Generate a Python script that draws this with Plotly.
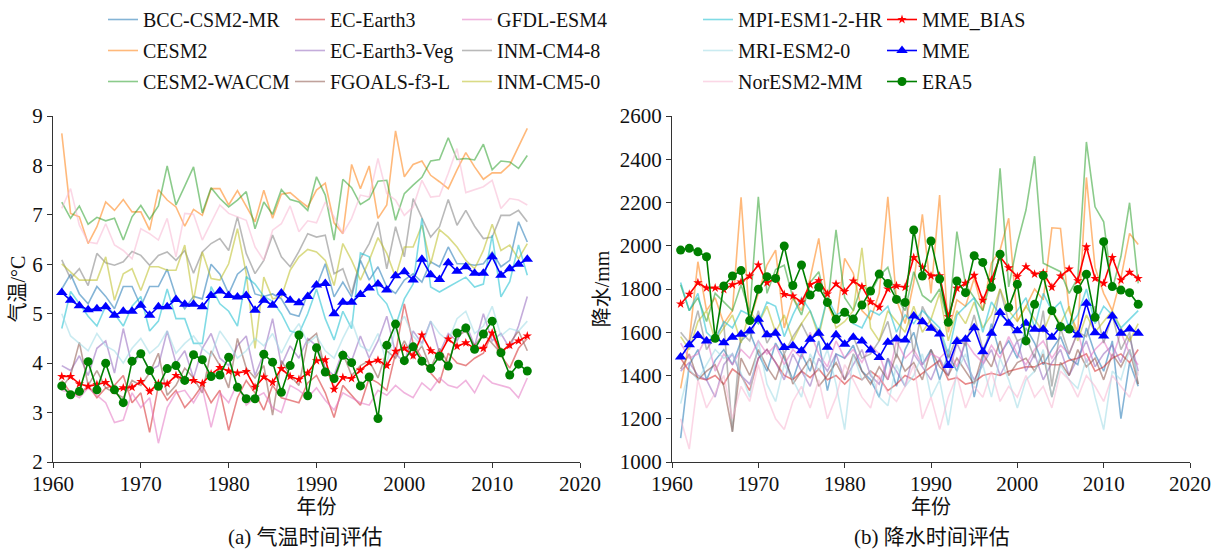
import plotly.graph_objects as go

years = list(range(1961, 2015))
x_ticks = [1960, 1970, 1980, 1990, 2000, 2010, 2020]
t_ticks = [2, 3, 4, 5, 6, 7, 8, 9]
p_ticks = [1000, 1200, 1400, 1600, 1800, 2000, 2200, 2400, 2600]

# ---------------- Temperature (°C) ----------------
T_MME_BIAS = [3.73,3.73,3.58,3.53,3.57,3.61,3.45,3.50,3.51,3.63,
              3.43,3.59,3.58,3.75,3.66,3.65,3.59,3.78,3.91,3.84,
              3.80,3.83,3.51,3.72,3.61,3.89,3.73,3.67,3.80,4.05,
              4.07,3.47,3.71,3.69,3.86,4.01,4.06,3.95,4.24,4.30,
              4.15,4.57,4.25,4.16,4.49,4.34,4.41,4.30,4.30,4.61,
              4.23,4.36,4.45,4.55]
T_MME = [5.43,5.27,5.16,5.08,5.10,5.14,4.97,5.05,5.05,5.17,
         4.97,5.14,5.14,5.29,5.19,5.19,5.14,5.37,5.46,5.37,
         5.34,5.37,5.07,5.27,5.17,5.42,5.27,5.22,5.35,5.58,
         5.61,5.00,5.23,5.23,5.39,5.52,5.60,5.48,5.77,5.85,
         5.68,6.10,5.79,5.69,6.03,5.86,5.95,5.82,5.82,6.15,
         5.78,5.91,6.00,6.10]
T_ERA5 = [3.54,3.36,3.43,4.03,3.46,4.00,3.46,3.20,4.04,4.19,
          3.85,3.53,3.89,3.95,3.65,4.17,4.07,3.73,3.76,4.12,
          3.51,3.28,3.28,4.18,4.02,3.41,3.95,4.57,3.34,4.31,
          3.82,3.69,4.16,4.01,3.54,3.72,2.88,4.36,4.79,4.05,
          4.33,4.04,3.89,4.14,3.94,4.61,4.71,4.28,4.59,4.85,
          4.21,3.76,3.98,3.84]

T_BCC = [5.50,5.80,5.40,5.20,5.55,5.35,5.10,5.55,5.55,5.15,
         5.55,5.55,5.90,5.35,5.10,5.35,5.30,6.00,5.80,5.40,
         5.80,5.95,5.40,5.35,5.40,5.30,5.00,4.95,5.40,5.55,
         6.01,5.34,5.64,5.34,6.08,5.68,5.95,5.54,5.41,5.68,
         5.81,5.64,6.05,5.95,6.35,6.01,6.01,5.98,6.01,6.25,
         5.95,6.08,6.86,6.45]
T_CESM2 = [8.65,7.03,6.96,6.42,6.76,7.26,7.09,7.31,7.06,7.06,
           6.69,7.51,7.30,7.16,6.77,7.11,6.99,7.53,7.53,7.20,
           7.49,7.16,6.86,7.50,6.93,7.42,7.45,7.30,7.16,7.50,
           7.64,6.84,6.62,8.02,7.53,7.99,6.93,7.20,8.70,7.77,
           8.02,8.09,7.80,7.67,7.53,7.91,8.26,7.97,7.72,7.85,
           7.85,8.01,8.38,8.75]
T_WACCM = [7.26,6.93,7.18,6.81,6.95,6.88,6.93,6.49,6.96,7.19,
           6.91,7.18,7.99,7.20,7.58,7.97,7.04,7.55,7.33,7.16,
           7.30,7.47,6.72,7.26,7.01,7.51,7.31,7.26,7.09,7.77,
           7.40,6.49,7.72,7.55,7.21,7.32,7.68,7.70,6.89,7.43,
           7.60,7.76,8.09,8.12,8.56,8.12,8.14,8.11,8.43,7.91,
           8.09,8.07,7.94,8.20]
T_EC = [3.65,3.40,3.35,3.55,3.30,3.50,3.55,3.75,3.20,3.40,
        2.60,3.55,3.25,3.45,3.10,3.30,3.55,3.20,3.45,2.64,
        3.30,3.65,3.40,3.05,3.55,3.30,3.25,3.20,3.60,3.75,
        3.40,2.90,3.55,3.35,3.15,3.70,3.60,3.45,4.20,5.20,
        4.40,4.10,3.80,3.60,4.20,4.00,3.95,4.10,4.20,4.60,
        4.15,3.90,4.30,4.50]
T_ECV = [3.95,3.85,4.15,3.75,4.30,4.45,3.80,4.70,3.95,4.20,
         3.85,3.95,4.65,4.00,4.25,3.70,4.30,4.60,4.10,3.95,
         4.35,4.55,3.75,4.20,4.90,3.95,4.35,4.10,4.50,4.35,
         3.90,3.75,4.25,4.05,4.55,4.10,4.45,4.95,4.20,4.00,
         4.65,4.40,4.85,4.20,4.60,4.45,4.80,4.35,5.00,4.45,
         4.60,4.30,4.75,5.35]
T_FGOALS = [3.50,3.75,4.42,3.55,3.85,3.50,3.40,3.30,3.65,3.55,
            3.80,4.20,3.35,3.55,3.90,3.70,3.40,4.25,3.95,3.50,
            4.50,3.90,3.70,3.95,2.95,4.05,3.75,3.55,4.45,4.60,
            3.85,3.60,4.20,3.75,3.95,4.05,3.70,4.25,4.10,4.45,
            4.10,4.35,3.90,4.30,4.00,4.55,4.65,4.35,4.60,4.40,
            4.20,4.40,4.65,4.25]
T_GFDL = [3.45,3.40,3.30,3.50,3.35,3.20,2.80,2.85,3.40,3.10,
          3.30,2.38,3.10,3.40,3.45,3.20,3.50,2.70,3.40,3.20,
          3.60,3.15,3.30,3.40,3.10,3.00,3.55,3.45,3.30,3.50,
          3.25,3.05,3.40,3.30,3.20,3.15,3.45,3.35,3.55,3.40,
          3.30,3.60,3.45,3.70,3.55,3.50,3.65,3.40,3.75,3.60,
          3.55,3.50,3.30,3.70]
T_INM4 = [6.09,5.71,5.91,5.57,6.22,6.03,5.98,6.05,6.26,6.18,
          5.98,6.18,6.25,6.08,6.28,5.82,6.25,6.42,6.52,6.28,
          6.96,6.22,5.81,6.08,6.59,6.15,5.95,6.26,6.62,6.55,
          6.59,5.81,5.91,5.41,6.11,6.42,6.86,5.91,6.76,6.15,
          7.33,6.93,6.55,6.76,7.31,6.79,7.09,6.77,6.52,6.55,
          6.99,6.99,7.09,6.86]
T_INM5 = [6.01,5.84,5.68,5.68,5.68,6.15,5.27,5.81,5.91,5.47,
          5.95,5.95,5.88,5.88,6.39,5.27,6.25,5.71,5.68,6.01,
          6.72,5.81,4.30,5.74,5.30,5.34,5.88,6.15,6.30,6.25,
          6.08,5.57,6.42,6.08,5.68,6.08,6.54,6.22,5.74,6.35,
          6.35,6.79,6.01,6.70,6.55,6.35,6.08,5.91,6.28,6.81,
          6.28,6.39,6.11,6.42]
T_MPI = [4.70,5.45,5.20,4.95,4.75,5.15,5.00,4.75,5.15,5.35,
         4.65,4.85,5.50,4.90,4.90,4.40,4.40,5.55,5.20,5.05,
         4.75,5.75,5.60,5.35,5.25,5.00,4.65,4.60,5.00,5.50,
         4.90,4.47,5.05,4.70,6.23,6.15,5.40,5.20,4.75,5.30,
         5.60,6.93,5.54,5.44,5.54,5.64,5.74,5.54,5.60,6.59,
         5.34,5.65,6.39,5.78]
T_MRI = [5.00,4.55,4.40,4.25,4.60,4.35,4.25,4.00,4.30,4.50,
         4.20,4.35,4.65,4.20,4.40,4.55,4.30,4.15,4.65,4.40,
         4.10,4.25,4.50,4.35,4.60,4.20,4.55,4.80,4.40,4.55,
         4.25,4.10,4.50,4.85,4.35,4.25,4.60,4.00,4.70,4.95,
         4.55,4.35,4.85,4.60,4.45,4.90,5.05,4.60,4.75,5.15,
         4.55,4.70,4.65,4.85]
T_NOR = [7.13,7.53,6.79,6.45,6.42,6.82,6.39,6.28,6.11,6.72,
         6.62,6.49,6.93,6.15,7.03,7.01,6.49,6.86,7.20,7.03,
         6.96,6.89,6.35,6.08,6.69,6.82,7.18,6.66,6.88,6.84,
         7.26,6.96,6.62,6.93,7.40,7.36,8.14,7.43,7.30,6.99,
         7.16,7.70,7.36,7.38,7.84,8.34,7.45,7.51,7.57,7.70,
         7.13,7.33,7.30,7.20]

# ---------------- Precipitation (mm) ----------------
P_MME_BIAS = [1731,1776,1829,1805,1805,1797,1820,1832,1860,1911,
              1829,1849,1775,1768,1740,1820,1838,1777,1823,1788,
              1837,1811,1741,1715,1800,1815,1808,1946,1901,1861,
              1861,1672,1803,1826,1863,1748,1841,1949,1898,1857,
              1903,1869,1875,1808,1860,1892,1838,1995,1849,1826,
              1946,1841,1877,1849]
P_MME = [1485,1542,1585,1560,1572,1552,1577,1591,1606,1660,
         1588,1595,1529,1537,1515,1568,1595,1531,1588,1545,
         1577,1560,1518,1483,1554,1569,1564,1675,1649,1618,
         1592,1446,1557,1568,1621,1510,1595,1691,1642,1607,
         1642,1614,1614,1577,1626,1618,1587,1734,1598,1583,
         1675,1595,1615,1595]
P_ERA5 = [1980,1988,1972,1949,1572,1814,1860,1885,1654,1799,
          1857,1849,1999,1816,1911,1772,1808,1738,1660,1692,
          1661,1726,1791,1869,1826,1752,1738,2073,1860,2022,
          1846,1646,1837,1783,1954,1923,1808,1961,1714,1822,
          1560,1729,1862,1700,1626,1615,1798,1868,1669,2019,
          1811,1795,1783,1729]

P_BCC = [1110,1450,1520,1380,1470,1520,1450,1560,1600,1500,
         1420,1550,1480,1380,1500,1420,1560,1330,1500,1480,
         1540,1420,1380,1300,1480,1350,1520,1600,1450,1520,
         1380,1500,1420,1560,1300,1480,1640,1500,1560,1480,
         1620,1550,1450,1520,1580,1480,1450,1620,1500,1420,
         1560,1200,1460,1350]
P_CESM2 = [1340,1560,1926,1700,1760,1640,1700,2224,1650,1780,
           1911,1980,1620,1760,1700,1850,2034,1730,1640,1942,
           1873,1700,1660,1780,2226,1750,1640,1830,2145,1780,
           2234,1600,1750,1720,1850,1700,1920,1980,2127,1650,
           1720,1800,1750,2083,2080,1700,1600,2316,1900,1780,
           1700,1850,2057,2006]
P_WACCM = [1820,1700,1760,1650,1780,1740,1700,1820,1690,2226,
           1780,1890,1910,1760,1680,1830,1880,1720,2073,1760,
           1700,1820,1780,1860,1900,1760,1700,1880,1770,1740,
           1800,1640,2065,1820,1760,1700,1850,2358,1810,2011,
           2165,2414,1919,1900,1880,1780,1850,2480,2180,2111,
           1800,1950,2199,1826]
P_EC = [1480,1420,1390,1380,1400,1360,1430,1400,1330,1480,
        1520,1460,1400,1380,1420,1390,1430,1380,1400,1360,
        1400,1380,1420,1390,1330,1360,1400,1380,1410,1440,
        1470,1380,1390,1360,1370,1400,1410,1400,1420,1430,
        1440,1440,1460,1450,1450,1470,1480,1500,1420,1440,
        1480,1500,1460,1520]
P_ECV = [1420,1460,1400,1380,1300,1450,1500,1400,1360,1480,
         1520,1460,1380,1500,1420,1350,1480,1420,1500,1380,
         1450,1520,1400,1360,1480,1420,1350,1500,1440,1380,
         1480,1400,1550,1460,1380,1450,1520,1400,1480,1560,
         1420,1500,1380,1460,1520,1400,1480,1560,1440,1500,
         1540,1460,1580,1420]
P_FGOALS = [1430,1500,1380,1420,1450,1350,1140,1480,1400,1520,
            1440,1380,1500,1360,1420,1480,1350,1400,1460,1380,
            1500,1420,1360,1440,1380,1500,1420,1460,1380,1520,
            1440,1400,1480,1420,1360,1500,1440,1560,1400,1460,
            1480,1420,1500,1300,1460,1400,1520,1440,1480,1380,
            1500,1440,1520,1360]
P_GFDL = [1550,1480,1500,1580,1420,1500,1450,1520,1480,1560,
          1500,1540,1450,1520,1480,1600,1500,1440,1560,1480,
          1520,1460,1540,1500,1380,1560,1480,1520,1450,1500,
          1480,1520,1440,1560,1500,1460,1540,1480,1580,1500,
          1450,1520,1560,1480,1540,1500,1600,1460,1520,1560,
          1480,1600,1500,1450]
P_INM4 = [1600,1550,1700,1520,1580,1640,1140,1600,1560,1700,
          1550,1620,1500,1580,1640,1560,1620,1520,1600,1540,
          1580,1480,1500,1560,1650,1480,1770,1500,1720,1640,
          1600,1480,1580,1540,1680,1520,1600,1800,1650,1560,
          1580,1480,1700,1350,1620,1500,1600,1580,1720,1550,
          1680,1520,1600,1360]
P_INM5 = [1580,1520,1650,1700,1560,1620,1680,1550,1700,1640,
          1720,1600,1680,1560,1640,1700,1580,1760,1620,1650,
          1700,1990,1620,1560,1700,1650,1600,1720,1600,1660,
          1780,1560,1700,1640,1740,1620,1680,1800,1700,1650,
          1720,1660,1600,1700,1640,1720,1560,1680,1600,1650,
          1700,1620,1560,1640]
P_MPI = [1830,1700,1780,1600,1560,1650,1620,1700,1680,1640,
         1740,1720,1580,1680,1760,1700,1600,1760,1680,1700,
         1640,1620,1700,1680,1720,1600,1680,1640,1700,1660,
         1620,1500,1680,1720,1760,1600,1740,1680,1650,1700,
         1760,1620,1780,1700,1740,1620,1680,1800,1640,1720,
         1680,1620,1660,1700]
P_MRI = [1270,1430,1380,1450,1520,1480,1500,1410,1300,1560,
         1360,1280,1450,1380,1300,1500,1420,1520,1360,1150,
         1500,1380,1420,1300,1260,1450,1350,1400,1500,1300,
         1380,1170,1420,1500,1360,1450,1300,1480,1380,1250,
         1380,1420,1520,1300,1450,1380,1340,1480,1300,1150,
         1420,1380,1520,1400]
P_NOR = [1200,1060,1380,1250,1320,1400,1200,1350,1280,1450,
         1300,1200,1150,1280,1350,1250,1380,1200,1300,1450,
         1380,1300,1250,1400,1320,1280,1350,1450,1200,1300,
         1150,1300,1400,1250,1350,1300,1420,1280,1350,1300,
         1400,1300,1350,1250,1420,1380,1300,1400,1350,1280,
         1400,1350,1300,1420]

model_names = ["BCC-CSM2-MR", "CESM2", "CESM2-WACCM", "EC-Earth3", "EC-Earth3-Veg",
               "FGOALS-f3-L", "GFDL-ESM4", "INM-CM4-8", "INM-CM5-0", "MPI-ESM1-2-HR",
               "MRI-ESM2-0", "NorESM2-MM"]
model_T = [T_BCC, T_CESM2, T_WACCM, T_EC, T_ECV, T_FGOALS, T_GFDL, T_INM4, T_INM5,
           T_MPI, T_MRI, T_NOR]
model_P = [P_BCC, P_CESM2, P_WACCM, P_EC, P_ECV, P_FGOALS, P_GFDL, P_INM4, P_INM5,
           P_MPI, P_MRI, P_NOR]
model_colors = ["#1f77b4", "#ff7f0e", "#2ca02c", "#d62728", "#9467bd", "#8c564b",
                "#e377c2", "#7f7f7f", "#bcbd22", "#17becf", "#9edae5", "#f7b6d2"]

FONT = "Liberation Serif, Noto Sans CJK SC"


def rgba(hx, a):
    hx = hx.lstrip("#")
    r, g, b = int(hx[0:2], 16), int(hx[2:4], 16), int(hx[4:6], 16)
    return f"rgba({r},{g},{b},{a})"


fig = go.Figure()

for i, (name, tv, pv, col) in enumerate(zip(model_names, model_T, model_P, model_colors)):
    leg = "legend" if i < 3 else f"legend{i // 3 + 1}"
    for xa, ya, vals, show in (("x", "y", tv, True), ("x2", "y2", pv, False)):
        fig.add_trace(go.Scatter(
            x=years, y=vals, mode="lines", name=name, legend=leg,
            legendrank=i, legendgroup=name, showlegend=show,
            line=dict(color=rgba(col, 0.55), width=1.6),
            xaxis=xa, yaxis=ya))

key_series = [
    ("MME_BIAS", T_MME_BIAS, P_MME_BIAS, "#ff0000", "star", 7),
    ("MME", T_MME, P_MME, "#0000ff", "triangle-up", 10),
    ("ERA5", T_ERA5, P_ERA5, "#008000", "circle", 9),
]
for j, (name, tv, pv, col, sym, ms) in enumerate(key_series):
    for xa, ya, vals, show in (("x", "y", tv, True), ("x2", "y2", pv, False)):
        fig.add_trace(go.Scatter(
            x=years, y=vals, mode="lines+markers", name=name, legend="legend5",
            legendrank=20 + j, legendgroup=name, showlegend=show,
            line=dict(color=col, width=1.6),
            marker=dict(symbol=sym, size=ms, color=col, line=dict(width=0)),
            xaxis=xa, yaxis=ya))

W, H = 1224, 549
xdom1 = [53 / W, 580 / W]
xdom2 = [672 / W, 1190 / W]
ydom = [1 - 462 / H, 1 - 116 / H]

axis_common = dict(showline=True, linecolor="#333333", linewidth=1.2, ticks="outside",
                   ticklen=5, tickcolor="#333333", showgrid=False, zeroline=False,
                   automargin=False,
                   tickfont=dict(family=FONT, size=21, color="#111111"),
                   title_font=dict(family=FONT, size=20, color="#111111"))

fig.update_layout(
    width=W, height=H,
    margin=dict(l=0, r=0, t=0, b=0, autoexpand=False),
    paper_bgcolor="white", plot_bgcolor="white",
    font=dict(family=FONT, size=20, color="#111111"),
    xaxis=dict(domain=xdom1, range=[1960, 2020], tickvals=x_ticks, anchor="y",
               ticklabelstandoff=-2,
               title=dict(text="年份", standoff=4), **axis_common),
    yaxis=dict(domain=ydom, range=[2, 9], tickvals=t_ticks, anchor="x",
               title=dict(text="气温/°C", standoff=1), **axis_common),
    xaxis2=dict(domain=xdom2, range=[1960, 2020], tickvals=x_ticks, anchor="y2",
                ticklabelstandoff=-2,
                title=dict(text="年份", standoff=4), **axis_common),
    yaxis2=dict(domain=ydom, range=[1000, 2600], tickvals=p_ticks, anchor="x2",
                title=dict(text="降水/mm", standoff=4), **axis_common),
    annotations=[
        dict(text="(a) 气温时间评估", x=305 / W, y=1 - 537 / H, xref="paper", yref="paper",
             xanchor="center", yanchor="middle", showarrow=False,
             font=dict(family=FONT, size=21, color="#111111")),
        dict(text="(b) 降水时间评估", x=932 / W, y=1 - 537 / H, xref="paper", yref="paper",
             xanchor="center", yanchor="middle", showarrow=False,
             font=dict(family=FONT, size=21, color="#111111")),
    ],
)

legend_x = [103, 290, 457, 698, 882]
for k, lx in enumerate(legend_x):
    key = "legend" if k == 0 else f"legend{k + 1}"
    fig.update_layout(**{key: dict(
        x=lx / W, y=1.0, xanchor="left", yanchor="top",
        orientation="v", bgcolor="rgba(0,0,0,0)", borderwidth=0,
        font=dict(family=FONT, size=20, color="#111111"),
        tracegroupgap=2, itemwidth=30)})

fig.write_html("out.html")
